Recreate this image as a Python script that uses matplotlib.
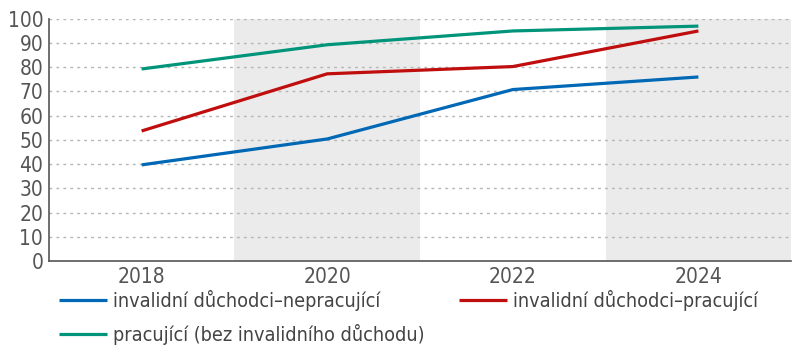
import matplotlib
matplotlib.use("Agg")
import matplotlib.pyplot as plt

years = [2018, 2020, 2022, 2024]
nepracujici = [39.7, 50.4, 70.8, 76.0]
pracujici_inv = [53.7, 77.3, 80.3, 95.0]
pracujici = [79.3, 89.3, 95.0, 97.0]
labels = ["invalidní důchodci–nepracující", "invalidní důchodci–pracující",
          "pracující (bez invalidního důchodu)"]
colors = ["#0068b4", "#c00d0d", "#00957a"]
shade_spans = [(2019, 2021), (2023, 2025)]

plt.rcParams['font.family'] = ["DejaVu Sans"]
plt.rcParams['font.stretch'] = 'condensed'

fig = plt.figure(figsize=(8, 3.53), dpi=100)
ax = fig.add_axes([0.061, 0.2606, 0.928, 0.686])
for a, b in shade_spans:
    ax.axvspan(a, b, color="#ebebeb", lw=0, zorder=0)
for v in range(10, 101, 10):
    ax.axhline(v, color="#b5b5b5", lw=1, ls=(0, (2, 3)), zorder=1)
series = [nepracujici, pracujici_inv, pracujici]
handles = []
for s, c, l in zip(series, colors, labels):
    h, = ax.plot(years, s, color=c, lw=2.3, label=l, zorder=3, solid_capstyle='butt')
    handles.append(h)
ax.set_xlim(2017, 2025)
ax.set_ylim(0, 100)
ax.set_yticks(range(0, 101, 10))
ax.set_xticks(years)
ax.tick_params(length=0, labelsize=15, labelcolor="#555555", pad=4)
for sp in ["top", "right"]:
    ax.spines[sp].set_visible(False)
for sp in ["left", "bottom"]:
    ax.spines[sp].set_color("#555555")
    ax.spines[sp].set_linewidth(1.2)

common = dict(loc="upper left", frameon=False, fontsize=14.2, handlelength=2.4,
              labelspacing=0.63, handletextpad=0.35, borderaxespad=0, borderpad=0)
leg1 = fig.legend(handles=[handles[0], handles[2]], labels=[labels[0], labels[2]],
                  bbox_to_anchor=(0.074, 0.178), **common)
leg2 = fig.legend(handles=[handles[1]], labels=[labels[1]],
                  bbox_to_anchor=(0.574, 0.178), **common)
for lg in (leg1, leg2):
    for t in lg.get_texts():
        t.set_color("#444444")
fig.savefig("out.png", dpi=100)
